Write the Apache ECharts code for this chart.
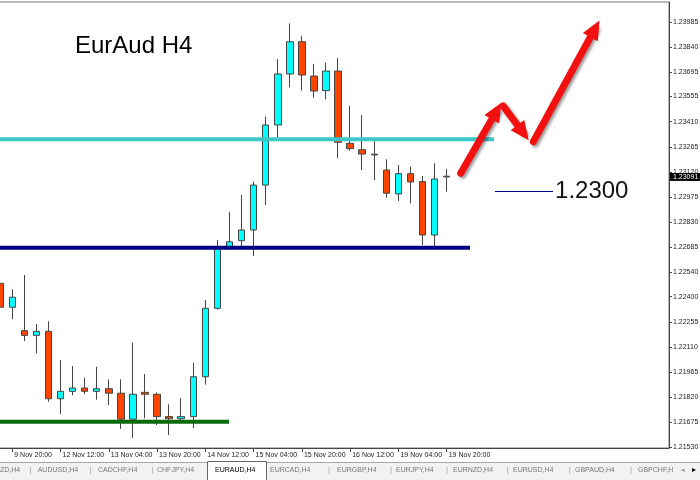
<!DOCTYPE html>
<html><head><meta charset="utf-8">
<script src="https://cdn.jsdelivr.net/npm/echarts@6/dist/echarts.min.js"></script>
<style>html,body{margin:0;padding:0;background:#fff}#c{width:700px;height:480px}</style>
</head><body><div id="c"></div>
<script>
// ---- data ----
const barTimes = ["9 Nov 16:00","9 Nov 20:00","12 Nov 00:00","12 Nov 04:00","12 Nov 08:00","12 Nov 12:00","12 Nov 16:00","12 Nov 20:00","13 Nov 00:00","13 Nov 04:00","13 Nov 08:00","13 Nov 12:00","13 Nov 16:00","13 Nov 20:00","14 Nov 00:00","14 Nov 04:00","14 Nov 08:00","14 Nov 12:00","14 Nov 16:00","14 Nov 20:00","15 Nov 00:00","15 Nov 04:00","15 Nov 08:00","15 Nov 12:00","15 Nov 16:00","15 Nov 20:00","16 Nov 00:00","16 Nov 04:00","16 Nov 08:00","16 Nov 12:00","16 Nov 16:00","16 Nov 20:00","19 Nov 00:00","19 Nov 04:00","19 Nov 08:00","19 Nov 12:00","19 Nov 16:00","19 Nov 20:00"];
const open  = [1.22477,1.22339,1.22204,1.22177,1.22200,1.21811,1.21854,1.21873,1.21854,1.21869,1.21843,1.21693,1.21848,1.21837,1.21708,1.21696,1.21708,1.21938,1.22333,1.22677,1.22723,1.22785,1.23044,1.23391,1.23685,1.23871,1.23673,1.23589,1.23702,1.23285,1.23248,1.23222,1.23131,1.22993,1.23110,1.23064,1.22756,1.23095];
const close = [1.22339,1.22397,1.22177,1.22200,1.21811,1.21854,1.21873,1.21854,1.21869,1.21843,1.21693,1.21837,1.21837,1.21708,1.21696,1.21708,1.21938,1.22333,1.22679,1.22717,1.22785,1.23044,1.23391,1.23685,1.23871,1.23679,1.23587,1.23702,1.23291,1.23254,1.23223,1.23218,1.22997,1.23110,1.23062,1.22756,1.23079,1.23091];
const low   = [1.22285,1.22270,1.22144,1.22073,1.21794,1.21723,1.21831,1.21837,1.21806,1.21775,1.21637,1.21585,1.21698,1.21660,1.21602,1.21671,1.21642,1.21892,1.22325,1.22673,1.22679,1.22635,1.22929,1.23320,1.23608,1.23589,1.23548,1.23539,1.23199,1.23242,1.23131,1.23073,1.22971,1.22952,1.22939,1.22698,1.22692,1.23006];
const high  = [1.22525,1.22443,1.22525,1.22242,1.22258,1.22035,1.22000,1.21933,1.21996,1.21923,1.21923,1.22135,1.21954,1.21848,1.21779,1.21814,1.22019,1.22381,1.22727,1.22890,1.22987,1.23064,1.23439,1.23771,1.23977,1.23906,1.23743,1.23750,1.23776,1.23502,1.23447,1.23297,1.23193,1.23160,1.23150,1.23096,1.23170,1.23137];

const xTickLabels = ["9 Nov 20:00","12 Nov 12:00","13 Nov 04:00","13 Nov 20:00","14 Nov 12:00","15 Nov 04:00","15 Nov 20:00","16 Nov 12:00","19 Nov 04:00","19 Nov 20:00"];
const yTickLabels = ["1.21530","1.21675","1.21820","1.21965","1.22110","1.22255","1.22400","1.22540","1.22685","1.22830","1.22975","1.23120","1.23265","1.23410","1.23555","1.23695","1.23840","1.23985"];

// horizontal levels: value and bar index where the drawn line stops
const levelValues = [1.23308, 1.22683, 1.21679];
const levelEnds   = [40.92, 38.93, 18.96];

// target annotation
const targetValue = 1.23007;
const targetSpan  = [41.0, 45.81];
const targetText  = "1.2300";

// projected path arrows [bar index, price]
const arrowStarts = [[38.16,1.23112],[41.69,1.23500],[44.18,1.23294]];
const arrowEnds   = [[41.13,1.23471],[43.33,1.23346],[49.28,1.23946]];

const titleText = "EurAud H4";
const tabNames = ["ZD,H4","AUDUSD,H4","CADCHF,H4","CHFJPY,H4","EURAUD,H4","EURCAD,H4","EURGBP,H4","EURJPY,H4","EURNZD,H4","EURUSD,H4","GBPAUD,H4","GBPCHF,H"];
const activeTab = "EURAUD,H4";

// ---- chart ----
const FONT = "Liberation Sans";
const chart = echarts.init(document.getElementById('c'), null, {renderer:'canvas'});
const candleData = barTimes.map((t,i)=>[i, open[i], close[i], low[i], high[i]]);
const lastPrice = close[close.length-1];
const yLabelValues = yTickLabels.map(Number).concat([lastPrice]);

const levelColors = ['#3CC8C8', '#000080', '#0A6A0A'];
const levelSeries = levelValues.map((v,k)=>({
  type:'line', z:3, symbol:'none', silent:true,
  data:[[-0.2, v],[levelEnds[k], v]],
  lineStyle:{width:4, color:levelColors[k]}
}));

// tab bar graphics
const TY = 470;
const tabX = [0, 37.7, 98, 157, 215, 270, 337, 396, 453, 513, 575, 638];
const sepX = [29.3, 89.3, 151.7, 328, 390, 446, 506.7, 568.7, 630];
const graphics = [
  {type:'rect', shape:{x:0,y:462,width:700,height:18}, style:{fill:'#F2F2F2'}, z:10},
  {type:'line', shape:{x1:0,y1:462.5,x2:700,y2:462.5}, style:{stroke:'#A8A8A8', lineWidth:1}, z:11},
];
tabNames.forEach((n,i)=>{
  if (n === activeTab) {
    graphics.push({type:'rect', shape:{x:tabX[i]-7.5, y:461.5, width:59, height:20}, style:{fill:'#fff', stroke:'#666', lineWidth:1}, z:11});
  }
  graphics.push({type:'text', x:tabX[i], y:TY, z:12,
    style:{text:n, fontSize:7, fontFamily:FONT, fill: n===activeTab ? '#000' : '#777', verticalAlign:'middle'}});
});
sepX.forEach(x=>graphics.push({type:'text', x:x, y:TY, z:12, style:{text:'|', fontSize:8, fontFamily:FONT, fill:'#999', verticalAlign:'middle'}}));
graphics.push({type:'text', x:681, y:TY, z:12, style:{text:'◂', fontSize:7, fontFamily:'DejaVu Sans', fill:'#999', verticalAlign:'middle'}});
graphics.push({type:'text', x:692, y:TY, z:12, style:{text:'▸', fontSize:8, fontFamily:'DejaVu Sans', fill:'#000', verticalAlign:'middle'}});

chart.setOption({
  animation:false,
  backgroundColor:'#fff',
  title:{text:titleText, left:75, top:34, padding:0,
    textStyle:{fontSize:24, fontWeight:'normal', fontFamily:FONT, color:'#000'}},
  grid:{left:-2, right:31, top:2, bottom:32, show:true, borderColor:'#777', borderWidth:1,
    containLabel:false, outerBoundsMode:'none'},
  xAxis:{
    type:'value', min:-0.1823, max:55.42,
    axisLine:{show:true, onZero:false, lineStyle:{color:'#444'}},
    axisTick:{show:true, length:4, customValues:xTickLabels.map(t=>barTimes.indexOf(t)), lineStyle:{color:'#444'}},
    axisLabel:{customValues:xTickLabels.map(t=>barTimes.indexOf(t)), formatter:v=>barTimes[Math.round(v)],
      align:'left', padding:[0,0,0,2], margin:4, fontSize:7, fontFamily:FONT, color:'#222'},
    splitLine:{show:false}
  },
  yAxis:{
    type:'value', position:'right', min:1.215269, max:1.241004, scale:true,
    axisLine:{show:true, onZero:false, lineStyle:{color:'#444'}},
    axisTick:{show:true, length:3, customValues:yTickLabels.map(Number), lineStyle:{color:'#444'}},
    axisLabel:{customValues:yLabelValues, margin:1, fontSize:7, fontFamily:FONT, color:'#222',
      formatter:v=> v === lastPrice ? '{cur|' + v.toFixed(5) + '}' : '{n|' + v.toFixed(5) + '}',
      rich:{
        n:{fontSize:7, fontFamily:FONT, color:'#222', padding:[0,0,0,3]},
        cur:{fontSize:7, fontFamily:FONT, color:'#fff', backgroundColor:'#000', padding:[1,2,0,3]}
      }},
    splitLine:{show:false}
  },
  graphic:graphics,
  series:[
    {
      type:'candlestick', barWidth:7, z:2,
      encode:{x:0, y:[1,2,3,4]},
      data:candleData,
      itemStyle:{color:'#00FFFF', color0:'#FF4500', borderColor:'#454545', borderColor0:'#454545', borderWidth:1}
    },
    ...levelSeries,
    {
      type:'line', z:3, symbol:'none', silent:true,
      data:[[targetSpan[0], targetValue],[targetSpan[1], targetValue]],
      lineStyle:{width:1, color:'#000080'},
      endLabel:{show:true, formatter:targetText, fontSize:24, fontFamily:FONT, color:'#111', distance:2}
    },
    {
      type:'line', z:4, symbol:'none', silent:true,
      data:arrowStarts.concat(arrowEnds),
      lineStyle:{opacity:0},
      markLine:{
        silent:true, animation:false,
        symbol:['none','triangle'], symbolSize:[17,19],
        label:{show:false},
        lineStyle:{type:'solid', color:'#F21010', width:7, cap:'round',
          shadowColor:'rgba(0,0,0,0.4)', shadowBlur:3, shadowOffsetX:2, shadowOffsetY:2},
        data:arrowStarts.map((s,i)=>[{coord:s},{coord:arrowEnds[i]}])
      }
    }
  ]
});
</script></body></html>
